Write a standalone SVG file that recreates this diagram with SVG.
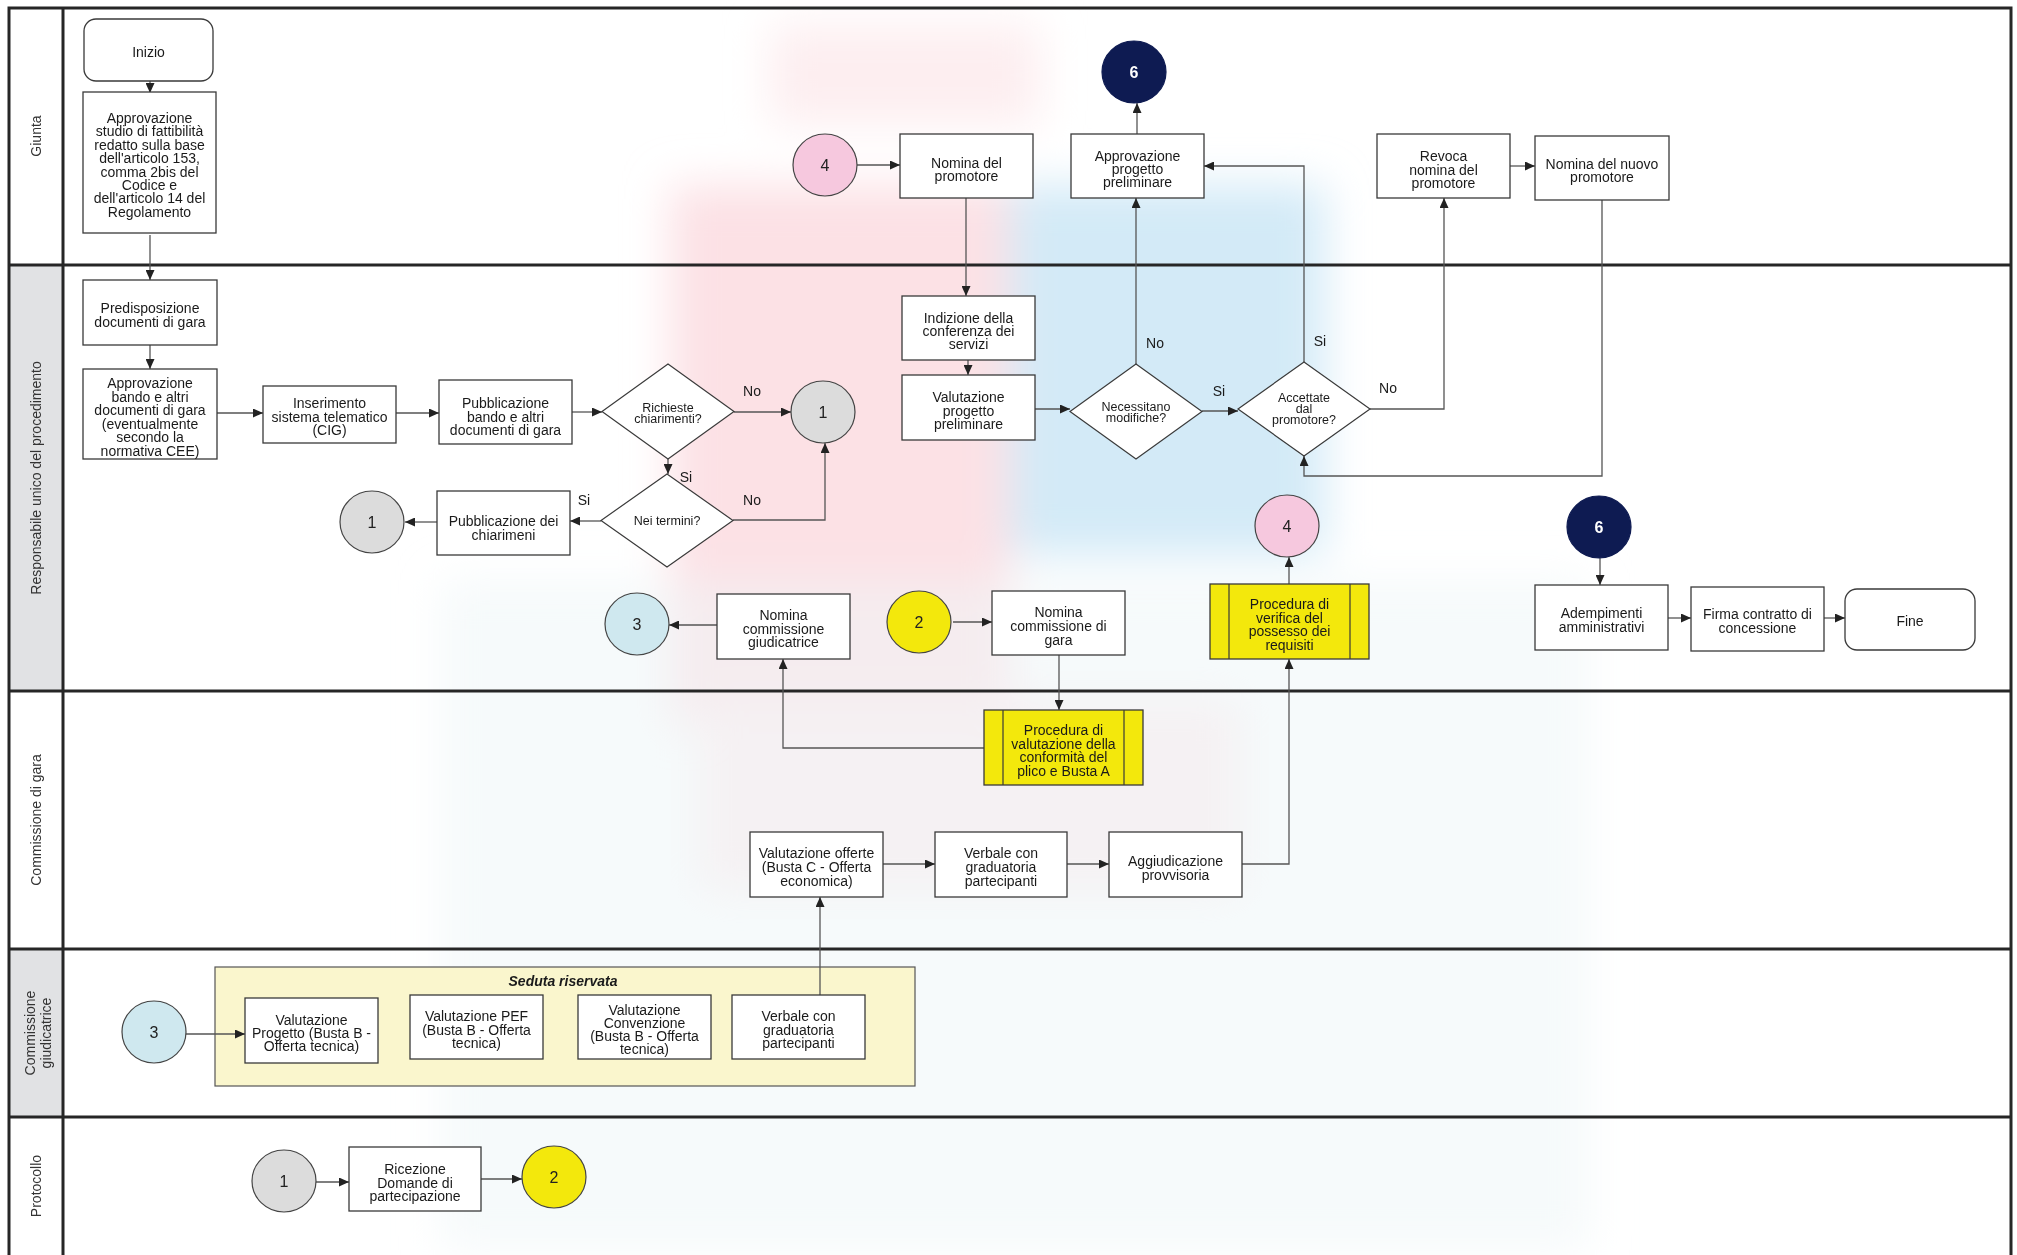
<svg xmlns="http://www.w3.org/2000/svg" width="2017" height="1255" viewBox="0 0 2017 1255">
<defs>
<filter id="soft" x="-20%" y="-20%" width="140%" height="140%"><feGaussianBlur stdDeviation="22"/></filter>
<marker id="ah" markerUnits="userSpaceOnUse" markerWidth="11" markerHeight="9" refX="10" refY="4.5" orient="auto"><path d="M0,0 L10,4.5 L0,9 z" fill="#222"/></marker>
</defs>
<style>
.lane{fill:none;stroke:#262626;stroke-width:3}
.hdr{fill:#e1e2e4}
.lbl{font-family:"Liberation Sans",Arial,sans-serif;font-size:14px;fill:#333;text-anchor:middle}
.box{fill:#fff;stroke:#3a3a3a;stroke-width:1.3}
.yel{fill:#f3e80c;stroke:#3a3a3a;stroke-width:1.3}
.dia{fill:#fff;stroke:#3a3a3a;stroke-width:1.2}
.t{font-family:"Liberation Sans",Arial,sans-serif;font-size:14px;fill:#1a1a1a;text-anchor:middle}
.ts{font-family:"Liberation Sans",Arial,sans-serif;font-size:12.5px;fill:#1a1a1a;text-anchor:middle}
.num{font-family:"Liberation Sans",Arial,sans-serif;font-size:16px;fill:#222;text-anchor:middle}
.numw{font-family:"Liberation Sans",Arial,sans-serif;font-size:16px;font-weight:bold;fill:#fff;text-anchor:middle}
.cond{font-family:"Liberation Sans",Arial,sans-serif;font-size:14px;fill:#1a1a1a}
.c1{fill:#dcdcdc;stroke:#444;stroke-width:1.2}
.c2{fill:#f3e80c;stroke:#444;stroke-width:1.2}
.c3{fill:#cfe8ef;stroke:#444;stroke-width:1.2}
.c4{fill:#f6c8de;stroke:#444;stroke-width:1.2}
.c6{fill:#0e1b52;stroke:#0e1b52;stroke-width:1.2}
.cn path{fill:none;stroke:#555;stroke-width:1.3;marker-end:url(#ah)}
</style>
<rect x="0" y="0" width="2017" height="1255" fill="#fff"/>
<g id="watermark" filter="url(#soft)">
<rect x="770" y="25" width="270" height="100" fill="#fdeef0"/>
<rect x="670" y="185" width="340" height="540" fill="#fce1e5"/>
<rect x="700" y="700" width="540" height="190" fill="#fdebed"/>
<rect x="1010" y="185" width="315" height="370" fill="#d3eaf7"/>
<rect x="440" y="580" width="1150" height="670" fill="#eef6f8" opacity="0.55"/>
</g>
<g id="lanes">
<rect x="9" y="265" width="54" height="426" class="hdr"/>
<rect x="9" y="949" width="54" height="168" class="hdr"/>
<path class="lane" d="M9,1256 V8 H2011 V1256 M63,8 V1256 M9,265 H2011 M9,691 H2011 M9,949 H2011 M9,1117 H2011"/>
<text class="lbl" transform="translate(41,136) rotate(-90)">Giunta</text>
<text class="lbl" transform="translate(41,478) rotate(-90)">Responsabile unico del procedimento</text>
<text class="lbl" transform="translate(41,820) rotate(-90)">Commissione di gara</text>
<text class="lbl" transform="translate(35,1033) rotate(-90)">Commissione</text>
<text class="lbl" transform="translate(51,1033) rotate(-90)">giudicatrice</text>
<text class="lbl" transform="translate(41,1186) rotate(-90)">Protocollo</text>
</g>
<g id="container-seduta">
<rect x="215" y="967" width="700" height="119" fill="#faf6cd" stroke="#555" stroke-width="1.2"/>
<text x="563" y="986" class="t" font-weight="bold" font-style="italic">Seduta riservata</text>
</g>
<g id="connectors" class="cn">
<path d="M150,81 V93"/>
<path d="M150,235 V280"/>
<path d="M150,345 V369"/>
<path d="M217,413 H263"/>
<path d="M396,413 H439"/>
<path d="M572,412 H602"/>
<path d="M734,412 H791"/>
<path d="M668,459 V474"/>
<path d="M733,520 H825 V443"/>
<path d="M601,521 H570"/>
<path d="M437,522 H405"/>
<path d="M857,165 H900"/>
<path d="M966,198 V296"/>
<path d="M968,360 V375"/>
<path d="M1035,409 H1070"/>
<path d="M1136,364 V198"/>
<path d="M1137,134 V103"/>
<path d="M1202,411 H1238"/>
<path d="M1304,362 V166 H1204"/>
<path d="M1370,409 H1444 V198"/>
<path d="M1510,166 H1535"/>
<path d="M1602,200 V476 H1304 V456"/>
<path d="M953,622 H992"/>
<path d="M1059,655 V710"/>
<path d="M984,748 H783 V659"/>
<path d="M717,625 H669"/>
<path d="M883,864 H935"/>
<path d="M1067,864 H1109"/>
<path d="M1242,864 H1289 V659"/>
<path d="M1289,584 V557"/>
<path d="M1600,558 V585"/>
<path d="M1668,618 H1691"/>
<path d="M1824,618 H1845"/>
<path d="M186,1034 H245"/>
<path d="M820,995 V897"/>
<path d="M316,1182 H349"/>
<path d="M481,1179 H522"/>
</g>
<g id="connector-labels">
<text x="752" y="396" class="cond" text-anchor="middle">No</text>
<text x="686" y="482" class="cond" text-anchor="middle">Si</text>
<text x="752" y="505" class="cond" text-anchor="middle">No</text>
<text x="584" y="505" class="cond" text-anchor="middle">Si</text>
<text x="1155" y="348" class="cond" text-anchor="middle">No</text>
<text x="1219" y="396" class="cond" text-anchor="middle">Si</text>
<text x="1320" y="346" class="cond" text-anchor="middle">Si</text>
<text x="1388" y="393" class="cond" text-anchor="middle">No</text>
</g>
<g id="n-inizio"><rect class="box" x="84" y="19" width="129" height="62" rx="12"/><text class="t" x="148.5" y="57">Inizio</text></g>
<g id="n-studio"><rect class="box" x="83" y="92" width="133" height="141"/>
<text class="t" x="149.5" y="123"><tspan x="149.5">Approvazione</tspan><tspan x="149.5" dy="13.4">studio di fattibilità</tspan><tspan x="149.5" dy="13.4">redatto sulla base</tspan><tspan x="149.5" dy="13.4">dell'articolo 153,</tspan><tspan x="149.5" dy="13.4">comma 2bis del</tspan><tspan x="149.5" dy="13.4">Codice e</tspan><tspan x="149.5" dy="13.4">dell'articolo 14 del</tspan><tspan x="149.5" dy="13.4">Regolamento</tspan></text></g>
<g id="n-predisposizione"><rect class="box" x="83" y="280" width="134" height="65"/>
<text class="t" y="313"><tspan x="150">Predisposizione</tspan><tspan x="150" dy="14">documenti di gara</tspan></text></g>
<g id="n-approvazione-bando"><rect class="box" x="83" y="369" width="134" height="90"/>
<text class="t" y="388"><tspan x="150">Approvazione</tspan><tspan x="150" dy="13.6">bando e altri</tspan><tspan x="150" dy="13.6">documenti di gara</tspan><tspan x="150" dy="13.6">(eventualmente</tspan><tspan x="150" dy="13.6">secondo la</tspan><tspan x="150" dy="13.6">normativa CEE)</tspan></text></g>
<g id="n-inserimento"><rect class="box" x="263" y="386" width="133" height="57"/>
<text class="t" y="408"><tspan x="329.5">Inserimento</tspan><tspan x="329.5" dy="13.5">sistema telematico</tspan><tspan x="329.5" dy="13.5">(CIG)</tspan></text></g>
<g id="n-pubblicazione-bando"><rect class="box" x="439" y="380" width="133" height="64"/>
<text class="t" y="408"><tspan x="505.5">Pubblicazione</tspan><tspan x="505.5" dy="13.5">bando e altri</tspan><tspan x="505.5" dy="13.5">documenti di gara</tspan></text></g>
<g id="n-richieste"><polygon class="dia" points="668,364 734,411.5 668,459 602,411.5"/>
<text class="ts" y="412"><tspan x="668">Richieste</tspan><tspan x="668" dy="10.8">chiarimenti?</tspan></text></g>
<g id="n-c1a"><ellipse class="c1" cx="823" cy="412" rx="32" ry="31"/><text class="num" x="823" y="418">1</text></g>
<g id="n-neitermini"><polygon class="dia" points="667,474 733,520.5 667,567 601,520.5"/>
<text class="ts" x="667" y="525">Nei termini?</text></g>
<g id="n-pubblicazione-chiarimenti"><rect class="box" x="437" y="491" width="133" height="64"/>
<text class="t" y="526"><tspan x="503.5">Pubblicazione dei</tspan><tspan x="503.5" dy="13.5">chiarimeni</tspan></text></g>
<g id="n-c1b"><ellipse class="c1" cx="372" cy="522" rx="32" ry="31"/><text class="num" x="372" y="528">1</text></g>
<g id="n-c4a"><ellipse class="c4" cx="825" cy="165" rx="32" ry="31"/><text class="num" x="825" y="171">4</text></g>
<g id="n-nomina-promotore"><rect class="box" x="900" y="134" width="133" height="64"/>
<text class="t" y="168"><tspan x="966.5">Nomina del</tspan><tspan x="966.5" dy="13">promotore</tspan></text></g>
<g id="n-approvazione-progetto"><rect class="box" x="1071" y="134" width="133" height="64"/>
<text class="t" y="161"><tspan x="1137.5">Approvazione</tspan><tspan x="1137.5" dy="13">progetto</tspan><tspan x="1137.5" dy="13">preliminare</tspan></text></g>
<g id="n-c6a"><ellipse class="c6" cx="1134" cy="72" rx="32" ry="31"/><text class="numw" x="1134" y="78">6</text></g>
<g id="n-revoca"><rect class="box" x="1377" y="134" width="133" height="64"/>
<text class="t" y="161"><tspan x="1443.5">Revoca</tspan><tspan x="1443.5" dy="13.5">nomina del</tspan><tspan x="1443.5" dy="13.5">promotore</tspan></text></g>
<g id="n-nuovo-promotore"><rect class="box" x="1535" y="136" width="134" height="64"/>
<text class="t" y="169"><tspan x="1602">Nomina del nuovo</tspan><tspan x="1602" dy="13">promotore</tspan></text></g>
<g id="n-indizione"><rect class="box" x="902" y="296" width="133" height="64"/>
<text class="t" y="323"><tspan x="968.5">Indizione della</tspan><tspan x="968.5" dy="13">conferenza dei</tspan><tspan x="968.5" dy="13">servizi</tspan></text></g>
<g id="n-valutazione-progetto"><rect class="box" x="902" y="375" width="133" height="65"/>
<text class="t" y="402"><tspan x="968.5">Valutazione</tspan><tspan x="968.5" dy="13.5">progetto</tspan><tspan x="968.5" dy="13.5">preliminare</tspan></text></g>
<g id="n-necessitano"><polygon class="dia" points="1136,364 1202,411.5 1136,459 1070,411.5"/>
<text class="ts" y="411"><tspan x="1136">Necessitano</tspan><tspan x="1136" dy="10.8">modifiche?</tspan></text></g>
<g id="n-accettate"><polygon class="dia" points="1304,362 1370,409 1304,456 1238,409"/>
<text class="ts" y="402"><tspan x="1304">Accettate</tspan><tspan x="1304" dy="11">dal</tspan><tspan x="1304" dy="11">promotore?</tspan></text></g>
<g id="n-c3a"><ellipse class="c3" cx="637" cy="624" rx="32" ry="31"/><text class="num" x="637" y="630">3</text></g>
<g id="n-nomina-giudicatrice"><rect class="box" x="717" y="594" width="133" height="65"/>
<text class="t" y="620"><tspan x="783.5">Nomina</tspan><tspan x="783.5" dy="13.5">commissione</tspan><tspan x="783.5" dy="13.5">giudicatrice</tspan></text></g>
<g id="n-c2a"><ellipse class="c2" cx="919" cy="622" rx="32" ry="31"/><text class="num" x="919" y="628">2</text></g>
<g id="n-nomina-gara"><rect class="box" x="992" y="591" width="133" height="64"/>
<text class="t" y="617"><tspan x="1058.5">Nomina</tspan><tspan x="1058.5" dy="14">commissione di</tspan><tspan x="1058.5" dy="14">gara</tspan></text></g>
<g id="n-c4b"><ellipse class="c4" cx="1287" cy="526" rx="32" ry="31"/><text class="num" x="1287" y="532">4</text></g>
<g id="n-procedura-verifica"><rect class="yel" x="1210" y="584" width="159" height="75"/>
<path d="M1229,584 V659 M1350,584 V659" stroke="#3a3a3a" stroke-width="1.2"/>
<text class="t" y="609"><tspan x="1289.5">Procedura di</tspan><tspan x="1289.5" dy="13.7">verifica del</tspan><tspan x="1289.5" dy="13.7">possesso dei</tspan><tspan x="1289.5" dy="13.7">requisiti</tspan></text></g>
<g id="n-c6b"><ellipse class="c6" cx="1599" cy="527" rx="32" ry="31"/><text class="numw" x="1599" y="533">6</text></g>
<g id="n-adempimenti"><rect class="box" x="1535" y="585" width="133" height="65"/>
<text class="t" y="618"><tspan x="1601.5">Adempimenti</tspan><tspan x="1601.5" dy="14">amministrativi</tspan></text></g>
<g id="n-firma"><rect class="box" x="1691" y="587" width="133" height="64"/>
<text class="t" y="619"><tspan x="1757.5">Firma contratto di</tspan><tspan x="1757.5" dy="14">concessione</tspan></text></g>
<g id="n-fine"><rect class="box" x="1845" y="589" width="130" height="61" rx="12"/><text class="t" x="1910" y="626">Fine</text></g>
<g id="n-procedura-valutazione"><rect class="yel" x="984" y="710" width="159" height="75"/>
<path d="M1003,710 V785 M1124,710 V785" stroke="#3a3a3a" stroke-width="1.2"/>
<text class="t" y="735"><tspan x="1063.5">Procedura di</tspan><tspan x="1063.5" dy="13.5">valutazione della</tspan><tspan x="1063.5" dy="13.5">conformità del</tspan><tspan x="1063.5" dy="13.5">plico e Busta A</tspan></text></g>
<g id="n-valutazione-offerte"><rect class="box" x="750" y="832" width="133" height="65"/>
<text class="t" y="858"><tspan x="816.5">Valutazione offerte</tspan><tspan x="816.5" dy="14">(Busta C - Offerta</tspan><tspan x="816.5" dy="14">economica)</tspan></text></g>
<g id="n-verbale-gara"><rect class="box" x="935" y="832" width="132" height="65"/>
<text class="t" y="858"><tspan x="1001">Verbale con</tspan><tspan x="1001" dy="14">graduatoria</tspan><tspan x="1001" dy="14">partecipanti</tspan></text></g>
<g id="n-aggiudicazione"><rect class="box" x="1109" y="832" width="133" height="65"/>
<text class="t" y="866"><tspan x="1175.5">Aggiudicazione</tspan><tspan x="1175.5" dy="13.5">provvisoria</tspan></text></g>
<g id="n-c3b"><ellipse class="c3" cx="154" cy="1032" rx="32" ry="31"/><text class="num" x="154" y="1038">3</text></g>
<g id="n-val-progetto-b"><rect class="box" x="245" y="998" width="133" height="65"/>
<text class="t" y="1025"><tspan x="311.5">Valutazione</tspan><tspan x="311.5" dy="13">Progetto (Busta B -</tspan><tspan x="311.5" dy="13">Offerta tecnica)</tspan></text></g>
<g id="n-val-pef"><rect class="box" x="410" y="995" width="133" height="64"/>
<text class="t" y="1021"><tspan x="476.5">Valutazione PEF</tspan><tspan x="476.5" dy="13.5">(Busta B - Offerta</tspan><tspan x="476.5" dy="13.5">tecnica)</tspan></text></g>
<g id="n-val-convenzione"><rect class="box" x="578" y="995" width="133" height="64"/>
<text class="t" y="1015"><tspan x="644.5">Valutazione</tspan><tspan x="644.5" dy="13">Convenzione</tspan><tspan x="644.5" dy="13">(Busta B - Offerta</tspan><tspan x="644.5" dy="13">tecnica)</tspan></text></g>
<g id="n-verbale-giud"><rect class="box" x="732" y="995" width="133" height="64"/>
<text class="t" y="1021"><tspan x="798.5">Verbale con</tspan><tspan x="798.5" dy="13.5">graduatoria</tspan><tspan x="798.5" dy="13.5">partecipanti</tspan></text></g>
<g id="n-c1c"><ellipse class="c1" cx="284" cy="1181" rx="32" ry="31"/><text class="num" x="284" y="1187">1</text></g>
<g id="n-ricezione"><rect class="box" x="349" y="1147" width="132" height="64"/>
<text class="t" y="1174"><tspan x="415">Ricezione</tspan><tspan x="415" dy="13.5">Domande di</tspan><tspan x="415" dy="13.5">partecipazione</tspan></text></g>
<g id="n-c2b"><ellipse class="c2" cx="554" cy="1177" rx="32" ry="31"/><text class="num" x="554" y="1183">2</text></g>
</svg>
